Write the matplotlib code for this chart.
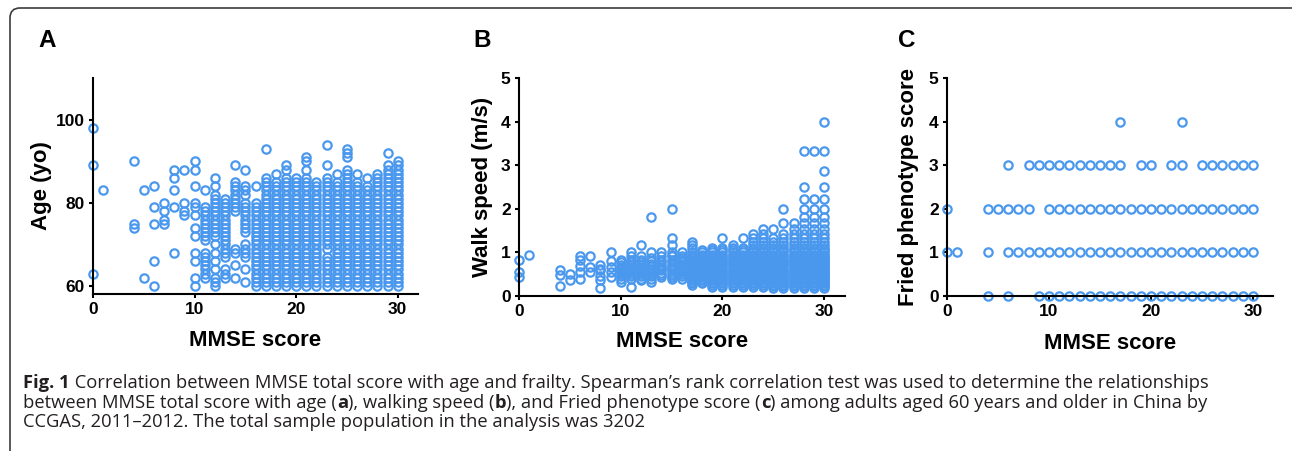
import matplotlib
matplotlib.use("Agg")
import matplotlib.pyplot as plt
from matplotlib.patches import FancyBboxPatch
from matplotlib.transforms import IdentityTransform

# ---- data (index = MMSE score 0..30) ----
mmse_ticks = [0, 10, 20, 30]

age_cols = [
    [98, 89, 63],
    [83],
    [],
    [],
    [90, 75, 74],
    [83, 62],
    [84, 79, 75, 66, 60],
    [80, 78, 76, 75],
    [88, 86, 83, 79, 68],
    [88, 80, 78, 77],
    [90, 88, 84, 80, 79, 77, 74, 72, 68, 66, 62, 60],
    [83, 79, 78, 77, 76, 75, 74, 73, 72, 71, 68, 67, 66, 65, 64, 63, 62],
    [86, 84, 82, 81, 80, 79, 78, 77, 76, 75, 74, 73, 72, 70, 68, 66, 64, 62, 61, 60],
    [81, 80, 79, 78, 77, 76, 75, 74, 73, 72, 71, 70, 69, 68, 67, 64, 63, 62],
    [89, 85, 84, 83, 82, 81, 80, 79, 78, 69, 68, 65, 62],
    [88, 84, 83, 82, 80, 79, 78, 77, 76, 75, 74, 73, 70, 69, 68, 67, 64, 61],
    [84, 80, 79, 78, 77, 76, 75, 74, 73, 72, 71, 70, 69, 68, 67, 66, 65, 64, 63, 62, 61, 60],
    [93, 86, 85, 84, 83, 82, 81, 80, 79, 78, 77, 76, 75, 74, 73, 72, 71, 70, 69, 68, 67, 66, 65, 64, 63, 62, 61, 60],
    [87, 85, 84, 83, 82, 81, 80, 79, 78, 77, 76, 75, 74, 73, 72, 71, 70, 69, 68, 67, 66, 65, 64, 63, 62, 61, 60],
    [89, 88, 86, 85, 84, 83, 82, 81, 80, 79, 78, 77, 76, 75, 74, 73, 72, 71, 70, 69, 68, 67, 66, 65, 64, 63, 62, 61, 60],
    [86, 85, 84, 83, 82, 81, 80, 79, 78, 77, 76, 75, 74, 73, 72, 71, 70, 69, 68, 67, 66, 65, 64, 63, 62, 61, 60],
    [91, 90, 88, 86, 85, 84, 83, 82, 81, 80, 79, 78, 77, 76, 75, 74, 73, 72, 71, 70, 69, 68, 67, 66, 65, 64, 63, 62, 61, 60],
    [85, 84, 83, 82, 81, 80, 79, 78, 77, 76, 75, 74, 73, 72, 71, 70, 69, 68, 67, 66, 65, 64, 63, 62, 61, 60],
    [94, 89, 86, 85, 84, 83, 82, 81, 80, 79, 78, 77, 76, 75, 74, 73, 72, 71, 70, 69, 67, 66, 65, 64, 63, 62, 61, 60],
    [87, 85, 84, 83, 82, 81, 80, 79, 78, 77, 76, 75, 74, 73, 72, 71, 70, 69, 68, 67, 66, 65, 64, 63, 62, 61, 60],
    [93, 92, 91, 88, 87, 86, 85, 84, 83, 82, 81, 80, 79, 78, 77, 76, 75, 74, 73, 72, 71, 70, 69, 68, 67, 66, 65, 64, 63, 62, 61, 60],
    [87, 85, 84, 83, 82, 81, 80, 79, 78, 77, 76, 75, 74, 73, 72, 71, 70, 69, 68, 67, 66, 65, 64, 63, 62, 61, 60],
    [86, 84, 83, 82, 81, 80, 79, 78, 77, 76, 75, 74, 73, 72, 71, 70, 69, 68, 67, 66, 65, 64, 63, 62, 61, 60],
    [87, 86, 85, 84, 83, 82, 81, 80, 79, 78, 77, 76, 75, 74, 73, 72, 71, 70, 69, 68, 67, 66, 65, 64, 63, 62, 61, 60],
    [92, 89, 88, 87, 86, 85, 84, 83, 82, 81, 80, 79, 78, 77, 76, 75, 74, 73, 72, 71, 70, 69, 68, 67, 66, 65, 64, 63, 62, 61, 60],
    [90, 89, 88, 87, 86, 85, 84, 83, 82, 81, 80, 79, 78, 77, 76, 75, 74, 73, 72, 71, 70, 69, 68, 67, 66, 65, 64, 63, 62, 61, 60],
]

speed_cols = [
    [0.83, 0.56, 0.43],
    [0.95],
    [],
    [],
    [0.59, 0.48, 0.22],
    [0.5, 0.36],
    [0.91, 0.83, 0.69, 0.56, 0.4],
    [0.91, 0.67, 0.56],
    [0.71, 0.63, 0.59, 0.45, 0.36, 0.19],
    [1.0, 0.8, 0.67, 0.56, 0.44],
    [0.83, 0.77, 0.71, 0.67, 0.63, 0.59, 0.56, 0.5, 0.45, 0.4, 0.33],
    [1.0, 0.91, 0.83, 0.77, 0.71, 0.67, 0.63, 0.59, 0.56, 0.5, 0.45, 0.4, 0.21],
    [1.18, 0.91, 0.83, 0.77, 0.71, 0.67, 0.63, 0.59, 0.56, 0.5, 0.45, 0.4, 0.36],
    [1.82, 1.0, 0.87, 0.8, 0.74, 0.69, 0.63, 0.59, 0.56, 0.5, 0.45, 0.4, 0.33],
    [1.0, 0.91, 0.83, 0.77, 0.71, 0.67, 0.63, 0.59, 0.53, 0.48, 0.44],
    [2.0, 1.33, 1.18, 1.0, 0.95, 0.91, 0.83, 0.77, 0.71, 0.67, 0.63, 0.59, 0.53, 0.48, 0.44, 0.4],
    [1.0, 0.91, 0.87, 0.83, 0.77, 0.71, 0.67, 0.63, 0.59, 0.56, 0.5, 0.45, 0.4],
    [1.25, 1.18, 1.11, 1.0, 0.95, 0.91, 0.87, 0.83, 0.8, 0.77, 0.74, 0.71, 0.67, 0.63, 0.59, 0.56, 0.53, 0.5, 0.47, 0.44, 0.4, 0.36, 0.33, 0.29, 0.25],
    [1.05, 1.0, 0.95, 0.91, 0.87, 0.83, 0.8, 0.77, 0.74, 0.71, 0.67, 0.63, 0.59, 0.56, 0.53, 0.5, 0.47, 0.44, 0.4, 0.36, 0.33, 0.29],
    [1.11, 1.05, 1.0, 0.95, 0.91, 0.87, 0.83, 0.8, 0.77, 0.74, 0.71, 0.67, 0.63, 0.59, 0.56, 0.53, 0.5, 0.47, 0.44, 0.4, 0.36, 0.33, 0.29, 0.25, 0.21],
    [1.33, 1.11, 1.05, 1.0, 0.95, 0.91, 0.87, 0.83, 0.8, 0.77, 0.74, 0.71, 0.67, 0.63, 0.59, 0.56, 0.53, 0.5, 0.47, 0.44, 0.4, 0.36, 0.33, 0.29, 0.25, 0.2],
    [1.18, 1.11, 1.05, 1.0, 0.95, 0.91, 0.87, 0.83, 0.8, 0.77, 0.74, 0.71, 0.67, 0.63, 0.59, 0.56, 0.53, 0.5, 0.47, 0.44, 0.4, 0.36, 0.33, 0.29, 0.25, 0.2],
    [1.33, 1.11, 1.05, 1.0, 0.95, 0.91, 0.87, 0.83, 0.8, 0.77, 0.74, 0.71, 0.67, 0.63, 0.59, 0.56, 0.53, 0.5, 0.47, 0.44, 0.4, 0.36, 0.33, 0.29, 0.25, 0.2],
    [1.43, 1.33, 1.25, 1.18, 1.11, 1.05, 1.0, 0.95, 0.91, 0.87, 0.83, 0.8, 0.77, 0.74, 0.71, 0.67, 0.63, 0.59, 0.56, 0.53, 0.5, 0.47, 0.44, 0.4, 0.36, 0.33, 0.29, 0.25, 0.21],
    [1.54, 1.43, 1.33, 1.25, 1.18, 1.11, 1.05, 1.0, 0.95, 0.91, 0.87, 0.83, 0.8, 0.77, 0.74, 0.71, 0.67, 0.63, 0.59, 0.56, 0.53, 0.5, 0.47, 0.44, 0.4, 0.36, 0.33, 0.29, 0.25, 0.2],
    [1.54, 1.33, 1.25, 1.18, 1.11, 1.05, 1.0, 0.95, 0.91, 0.87, 0.83, 0.8, 0.77, 0.74, 0.71, 0.67, 0.63, 0.59, 0.56, 0.53, 0.5, 0.47, 0.44, 0.4, 0.36, 0.33, 0.29, 0.25, 0.22, 0.18],
    [2.0, 1.67, 1.43, 1.33, 1.25, 1.18, 1.11, 1.05, 1.0, 0.95, 0.91, 0.87, 0.83, 0.8, 0.77, 0.74, 0.71, 0.67, 0.63, 0.59, 0.56, 0.53, 0.5, 0.47, 0.44, 0.4, 0.36, 0.33, 0.29, 0.25, 0.22, 0.18],
    [1.67, 1.54, 1.43, 1.33, 1.25, 1.18, 1.11, 1.05, 1.0, 0.95, 0.91, 0.87, 0.83, 0.8, 0.77, 0.74, 0.71, 0.67, 0.63, 0.59, 0.56, 0.53, 0.5, 0.47, 0.44, 0.4, 0.36, 0.33, 0.29, 0.25, 0.22, 0.18],
    [3.33, 2.5, 2.22, 2.0, 1.82, 1.67, 1.54, 1.43, 1.33, 1.25, 1.18, 1.11, 1.05, 1.0, 0.95, 0.91, 0.87, 0.83, 0.8, 0.77, 0.74, 0.71, 0.67, 0.63, 0.59, 0.56, 0.53, 0.5, 0.47, 0.44, 0.4, 0.36, 0.33, 0.29, 0.25, 0.22, 0.18],
    [3.33, 2.22, 2.0, 1.82, 1.67, 1.54, 1.43, 1.33, 1.25, 1.18, 1.11, 1.05, 1.0, 0.95, 0.91, 0.87, 0.83, 0.8, 0.77, 0.74, 0.71, 0.67, 0.63, 0.59, 0.56, 0.53, 0.5, 0.47, 0.44, 0.4, 0.36, 0.33, 0.29, 0.25, 0.22, 0.18],
    [4.0, 3.33, 2.86, 2.5, 2.22, 2.0, 1.82, 1.67, 1.54, 1.43, 1.33, 1.25, 1.18, 1.11, 1.05, 1.0, 0.95, 0.91, 0.87, 0.83, 0.8, 0.77, 0.74, 0.71, 0.67, 0.63, 0.59, 0.56, 0.53, 0.5, 0.47, 0.44, 0.4, 0.36, 0.33, 0.29, 0.25, 0.22, 0.18],
]

# Fried phenotype score -> MMSE scores where a point appears
fried_rows = {
    4: [17, 23],
    3: [6, 8, 9, 10, 11, 12, 13, 14, 15, 16, 17, 19, 20, 22, 23, 25, 26, 27, 28, 29, 30],
    2: [0, 4, 5, 6, 7, 8, 10, 11, 12, 13, 14, 15, 16, 17, 18, 19, 20, 21, 22, 23, 24, 25, 26, 27, 28, 29, 30],
    1: [0, 1, 4, 6, 7, 8, 9, 10, 11, 12, 13, 14, 15, 16, 17, 18, 19, 20, 21, 22, 23, 24, 25, 26, 27, 28, 29, 30],
    0: [4, 6, 9, 10, 11, 12, 13, 14, 15, 16, 17, 18, 19, 20, 21, 22, 23, 24, 25, 26, 27, 28, 29, 30],
}

caption_lines = [
    [("Fig. 1", True),
     (" Correlation between MMSE total score with age and frailty. Spearman\u2019s rank correlation test was used to determine the relationships", False)],
    [("between MMSE total score with age (", False), ("a", True), ("), walking speed (", False), ("b", True),
     ("), and Fried phenotype score (", False), ("c", True),
     (") among adults aged 60 years and older in China by", False)],
    [("CCGAS, 2011\u20132012. The total sample population in the analysis was 3202", False)],
]


def flatten(cols):
    xs, ys = [], []
    for x, vals in enumerate(cols):
        xs += [x] * len(vals)
        ys += vals
    return xs, ys


blue = "#4a98ee"
W, H = 1292, 451
plt.rcParams["font.family"] = ["Liberation Sans", "DejaVu Sans"]
plt.rcParams["font.weight"] = "bold"

fig = plt.figure(figsize=(W / 100, H / 100), dpi=100)


def px_axes(x0, x1, ytop, ybot):
    return fig.add_axes([x0 / W, 1 - ybot / H, (x1 - x0) / W, (ybot - ytop) / H])


def style(ax):
    for s in ["top", "right"]:
        ax.spines[s].set_visible(False)
    for s in ["left", "bottom"]:
        ax.spines[s].set_linewidth(1.5)
        ax.spines[s].set_zorder(4)
    ax.tick_params(direction="out", length=3, width=1.5, labelsize=12.5, pad=3)
    for lab in ax.get_xticklabels() + ax.get_yticklabels():
        lab.set_fontweight("bold")
    ax.set_xlabel("MMSE score", fontsize=16, fontweight="bold")
    ax.patch.set_alpha(0)


def dots(ax, xs, ys):
    ax.plot(xs, ys, "o", ls="none", mfc="none", mec=blue, ms=6, mew=1.6,
            clip_on=False, zorder=3)


# A
axA = px_axes(93, 418, 78, 294)
xa, ya = flatten(age_cols)
dots(axA, xa, ya)
axA.set_xlim(0, 32)
axA.set_ylim(58.1, 110)
axA.set_xticks(mmse_ticks)
axA.set_yticks([60, 80, 100])
style(axA)
axA.set_ylabel("Age (yo)", fontsize=16, fontweight="bold")
axA.yaxis.set_label_coords(-0.125, 0.5)
axA.xaxis.set_label_coords(0.5, -0.165)

# B
axB = px_axes(519, 845, 78, 296)
xb, yb = flatten(speed_cols)
dots(axB, xb, yb)
axB.set_xlim(0, 32.05)
axB.set_ylim(0, 5)
axB.set_xticks(mmse_ticks)
axB.set_yticks([0, 1, 2, 3, 4, 5])
style(axB)
axB.set_ylabel("Walk speed (m/s)", fontsize=16, fontweight="bold")
axB.yaxis.set_label_coords(-0.08, 0.5)
axB.xaxis.set_label_coords(0.5, -0.16)

# C
axC = px_axes(947, 1273, 78, 296)
xc, yc = [], []
for level, xs in fried_rows.items():
    xc += xs
    yc += [level] * len(xs)
dots(axC, xc, yc)
axC.set_xlim(0, 31.96)
axC.set_ylim(0, 5)
axC.set_xticks(mmse_ticks)
axC.set_yticks([0, 1, 2, 3, 4, 5])
style(axC)
axC.set_ylabel("Fried phenotype score", fontsize=16, fontweight="bold")
axC.yaxis.set_label_coords(-0.086, 0.5)
axC.xaxis.set_label_coords(0.5, -0.17)

for letter, x in [("A", 38), ("B", 473), ("C", 898)]:
    fig.text(x / W, 1 - 29 / H, letter, fontsize=17.5, fontweight="bold", va="top", ha="left")

# outer rounded frame
frame = FancyBboxPatch((10, -20), 1295, H - 8 + 20, boxstyle="round,pad=0,rounding_size=10",
                       transform=IdentityTransform(), fill=False, ec="#3c3c3c", lw=1.2)
fig.patches.append(frame)

# caption with bold parts
cap_font = ["Open Sans", "DejaVu Sans"]
renderer = fig.canvas.get_renderer()
for baseline, pieces in zip([388, 407.5, 427], caption_lines):
    x = 23
    for txt, bold in pieces:
        t = fig.text(x / W, 1 - baseline / H, txt, fontsize=13.2, family=cap_font,
                     fontweight="bold" if bold else "normal", va="baseline", ha="left",
                     color="#231f20")
        x += t.get_window_extent(renderer).width

fig.savefig("out.png", dpi=100)
